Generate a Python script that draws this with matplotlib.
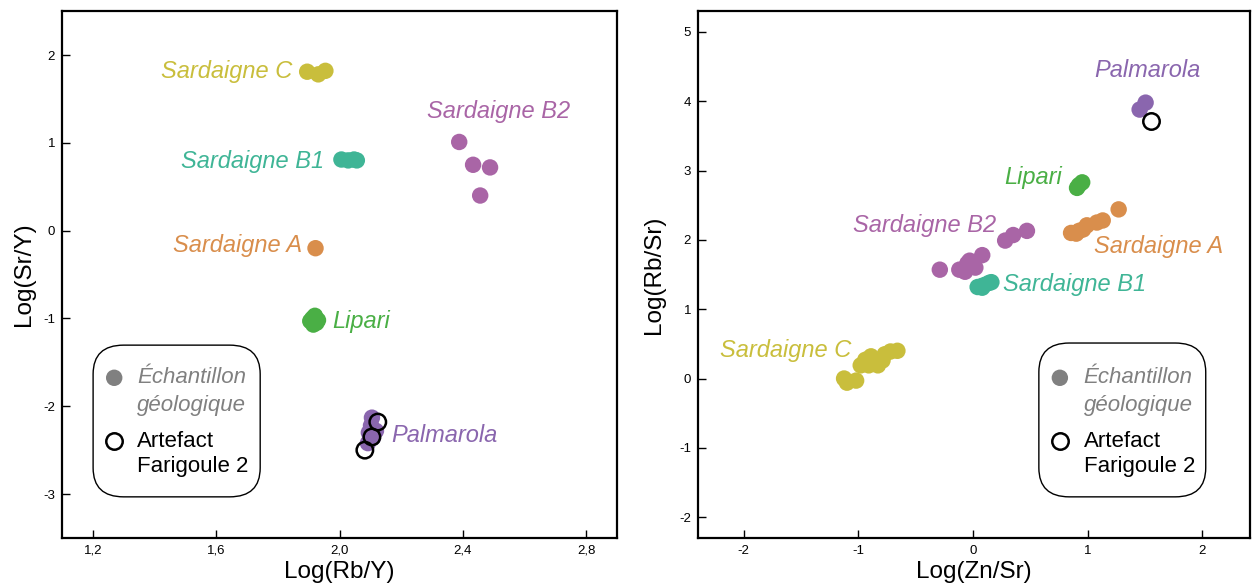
import matplotlib
matplotlib.use("Agg")
import matplotlib.pyplot as plt
from matplotlib.patches import FancyBboxPatch

plt.rcParams['font.family'] = ['Liberation Sans', 'DejaVu Sans']
plt.rcParams['axes.unicode_minus'] = False

# ---------------- colours ----------------
C_SC = "#C9BE3C"
C_B1 = "#3FB596"
C_B2 = "#A965A6"
C_A = "#D98E4C"
C_LIP = "#4AAF45"
C_PAL = "#8A66AE"
C_GREY = "#808080"

# ---------------- left panel data: Log(Rb/Y) vs Log(Sr/Y) ----------------
L_sc_x = [1.895, 1.931, 1.954]
L_sc_y = [1.81, 1.78, 1.82]
L_b1_x = [2.006, 2.028, 2.047, 2.056]
L_b1_y = [0.81, 0.80, 0.81, 0.80]
L_b2_x = [2.388, 2.433, 2.488, 2.456]
L_b2_y = [1.01, 0.75, 0.72, 0.40]
L_a_x = [1.922]
L_a_y = [-0.20]
L_lip_x = [1.905, 1.920, 1.925, 1.915, 1.930, 1.912]
L_lip_y = [-1.03, -0.97, -1.05, -1.07, -1.02, -1.00]
L_pal_x = [2.105, 2.102, 2.095, 2.108, 2.118, 2.092]
L_pal_y = [-2.13, -2.22, -2.30, -2.36, -2.28, -2.42]
L_art_x = [2.124, 2.105, 2.082]
L_art_y = [-2.18, -2.35, -2.50]

# ---------------- right panel data: Log(Zn/Sr) vs Log(Rb/Sr) ----------------
R_sc_x = [-1.125, -1.10, -1.02, -0.98, -0.94, -0.91, -0.89, -0.86, -0.83, -0.79, -0.77, -0.72, -0.66]
R_sc_y = [0.00, -0.06, -0.03, 0.19, 0.27, 0.19, 0.32, 0.23, 0.19, 0.26, 0.35, 0.39, 0.40]
R_b1_x = [0.04, 0.08, 0.10, 0.14, 0.16, 0.07]
R_b1_y = [1.32, 1.31, 1.35, 1.38, 1.39, 1.33]
R_b2_x = [-0.29, -0.12, -0.07, -0.05, -0.03, 0.02, 0.08, 0.28, 0.35, 0.47]
R_b2_y = [1.57, 1.57, 1.54, 1.66, 1.70, 1.60, 1.78, 1.99, 2.07, 2.13]
R_a_x = [0.855, 0.90, 0.924, 0.96, 0.993, 1.08, 1.131, 1.27]
R_a_y = [2.10, 2.09, 2.13, 2.15, 2.21, 2.25, 2.28, 2.44]
R_lip_x = [0.907, 0.924, 0.952]
R_lip_y = [2.75, 2.79, 2.83]
R_pal_x = [1.453, 1.505]
R_pal_y = [3.88, 3.98]
R_art_x = [1.554]
R_art_y = [3.72]

# ---------------- labels ----------------
L_labels = [
    ("Sardaigne C", 1.847, 1.81, C_SC, "right"),
    ("Sardaigne B2", 2.285, 1.36, C_B2, "left"),
    ("Sardaigne B1", 1.950, 0.79, C_B1, "right"),
    ("Sardaigne A", 1.880, -0.17, C_A, "right"),
    ("Lipari", 1.976, -1.03, C_LIP, "left"),
    ("Palmarola", 2.169, -2.33, C_PAL, "left"),
]
R_labels = [
    ("Palmarola", 1.055, 4.44, C_PAL, "left"),
    ("Lipari", 0.778, 2.90, C_LIP, "right"),
    ("Sardaigne B2", 0.204, 2.21, C_B2, "right"),
    ("Sardaigne A", 1.055, 1.91, C_A, "left"),
    ("Sardaigne B1", 0.26, 1.35, C_B1, "left"),
    ("Sardaigne C", -1.066, 0.40, C_SC, "right"),
]

L_xticks = [1.2, 1.6, 2.0, 2.4, 2.8]
L_xticklabels = ["1,2", "1,6", "2,0", "2,4", "2,8"]
L_yticks = [-3, -2, -1, 0, 1, 2]
R_xticks = [-2, -1, 0, 1, 2]
R_yticks = [-2, -1, 0, 1, 2, 3, 4, 5]

LEG_GEO = ["Échantillon", "géologique"]
LEG_ART = ["Artefact", "Farigoule 2"]

fig = plt.figure(figsize=(12.53, 5.86), dpi=100)
axL = fig.add_axes([0.0495, 0.082, 0.443, 0.899])
axR = fig.add_axes([0.557, 0.082, 0.441, 0.899])

MS = 140


def dots(ax, xs, ys, c):
    ax.scatter(xs, ys, s=MS, color=c, edgecolors='none', zorder=3)


def arts(ax, xs, ys):
    ax.scatter(xs, ys, s=MS, facecolors='white', edgecolors='black', linewidths=1.8, zorder=4)


dots(axL, L_sc_x, L_sc_y, C_SC)
dots(axL, L_b1_x, L_b1_y, C_B1)
dots(axL, L_b2_x, L_b2_y, C_B2)
dots(axL, L_a_x, L_a_y, C_A)
dots(axL, L_lip_x, L_lip_y, C_LIP)
dots(axL, L_pal_x, L_pal_y, C_PAL)
axL.scatter(L_art_x, L_art_y, s=MS, facecolors='none', edgecolors='black', linewidths=1.8, zorder=4)

dots(axR, R_sc_x, R_sc_y, C_SC)
dots(axR, R_b1_x, R_b1_y, C_B1)
dots(axR, R_b2_x, R_b2_y, C_B2)
dots(axR, R_a_x, R_a_y, C_A)
dots(axR, R_lip_x, R_lip_y, C_LIP)
dots(axR, R_pal_x, R_pal_y, C_PAL)
arts(axR, R_art_x, R_art_y)

for ax, labels in ((axL, L_labels), (axR, R_labels)):
    for txt, x, y, c, ha in labels:
        ax.text(x, y, txt, color=c, fontsize=17, style='italic', ha=ha, va='center')

axL.set_xlim(1.1, 2.9)
axL.set_ylim(-3.5, 2.5)
axL.set_xticks(L_xticks)
axL.set_xticklabels(L_xticklabels)
axL.set_yticks(L_yticks)
axL.set_xlabel("Log(Rb/Y)", fontsize=17.5, labelpad=3)
axL.set_ylabel("Log(Sr/Y)", fontsize=17.5, labelpad=6)

axR.set_xlim(-2.4, 2.42)
axR.set_ylim(-2.3, 5.3)
axR.set_xticks(R_xticks)
axR.set_yticks(R_yticks)
axR.set_xlabel("Log(Zn/Sr)", fontsize=17.5, labelpad=3)
axR.set_ylabel("Log(Rb/Sr)", fontsize=17.5, labelpad=10)

for ax in (axL, axR):
    for sp in ax.spines.values():
        sp.set_linewidth(1.6)
    ax.tick_params(direction='in', length=6, width=1, labelsize=9.5)
    ax.tick_params(axis='x', pad=5)
    ax.tick_params(axis='y', pad=5)


def legend_box(ax, x0, y0, x1, y1, mx, tx, ys):
    box = FancyBboxPatch((x0, y0), x1 - x0, y1 - y0,
                         boxstyle='round,pad=0,rounding_size=0.055',
                         transform=ax.transAxes, facecolor='white',
                         edgecolor='black', linewidth=1.0, zorder=5)
    ax.add_patch(box)
    ax.scatter([mx], [ys[0]], s=MS, color=C_GREY, edgecolors='none',
               transform=ax.transAxes, zorder=6, clip_on=False)
    ax.scatter([mx], [ys[2]], s=MS, facecolors='white', edgecolors='black',
               linewidths=1.8, transform=ax.transAxes, zorder=6, clip_on=False)
    ax.text(tx, ys[0], LEG_GEO[0], transform=ax.transAxes, fontsize=16,
            style='italic', color=C_GREY, va='center', ha='left', zorder=6)
    ax.text(tx, ys[1], LEG_GEO[1], transform=ax.transAxes, fontsize=16,
            style='italic', color=C_GREY, va='center', ha='left', zorder=6)
    ax.text(tx, ys[2], LEG_ART[0], transform=ax.transAxes, fontsize=16,
            color='black', va='center', ha='left', zorder=6)
    ax.text(tx, ys[3], LEG_ART[1], transform=ax.transAxes, fontsize=16,
            color='black', va='center', ha='left', zorder=6)


legend_box(axL, 0.056, 0.078, 0.357, 0.366, 0.094, 0.135, [0.304, 0.252, 0.184, 0.135])
legend_box(axR, 0.617, 0.078, 0.919, 0.370, 0.655, 0.698, [0.304, 0.252, 0.184, 0.135])

fig.savefig("out.png", dpi=100)
